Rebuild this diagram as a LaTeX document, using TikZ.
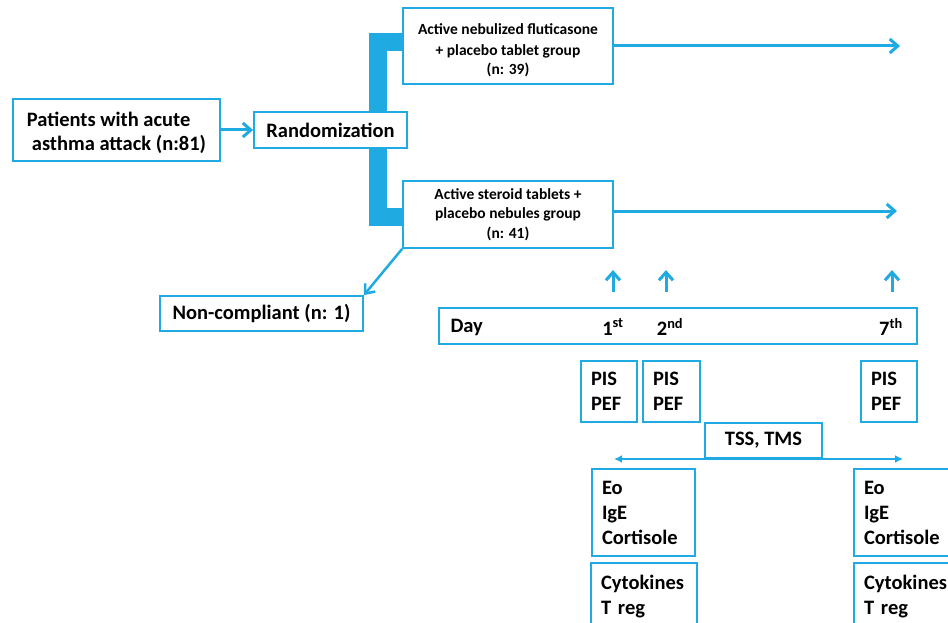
\documentclass[tikz,border=0pt]{standalone}
\usepackage{fontspec}
\setmainfont{Carlito}
\usetikzlibrary{arrows.meta}
\definecolor{cb}{RGB}{32,170,226}
\tikzset{
  box/.style={draw=cb,line width=1.8pt,rectangle,inner sep=0pt,font=\bfseries},
  big/.style={font=\fontsize{20.5}{25}\selectfont\bfseries},
  small/.style={font=\fontsize{15.5}{19.5}\selectfont\bfseries},
  arr/.style={draw=cb,line width=3pt,-{Straight Barb[length=8pt,width=14pt,line width=3pt]}},
  dbl/.style={draw=cb,line width=2.5pt,{Latex[length=8pt,width=8pt]}-{Latex[length=8pt,width=8pt]}},
  lbox/.style={box,big,align=left,inner xsep=10pt},
}
\begin{document}
\begin{tikzpicture}[x=1pt,y=-1pt]
\clip (0,0) rectangle (948,623);
\fill[white] (0,0) rectangle (948,623);
% main flow
\node[box,big,minimum width=207,minimum height=62] (pat) at (116.5,130) {\raisebox{-3.5pt}[\height][\depth]{\begin{tabular}{@{}l@{}}Patients with acute\\[-0.5pt] \hspace*{5pt}asthma attack (n:81)\end{tabular}}};
\node[box,big,minimum width=153,minimum height=36] (rand) at (330.5,130) {Randomization};
\node[box,small,minimum width=210,minimum height=76] (g1) at (508,46) {\raisebox{-5pt}[\height][\depth]{\begin{tabular}{@{}c@{}}Active nebulized fluticasone\\[1pt] + placebo tablet group\\ (n: 39)\end{tabular}}};
\node[box,small,align=center,minimum width=210,minimum height=67] (g2) at (508,214.5) {Active steroid tablets +\\ placebo nebules group\\ (n: 41)};
\node[box,big,minimum width=203,minimum height=35] (nc) at (261.5,313.5) {Non-compliant (n: 1)};
\coordinate (bx) at (378,0);
\coordinate (e1) at (900,46);
\coordinate (e2) at (897,211);
\draw[arr] (pat) -- (rand);
\draw[cb,line width=18pt,line join=miter] (rand.north -| bx) |- ([yshift=4]g1.west);
\draw[cb,line width=18pt,line join=miter] (rand.south -| bx) |- ([yshift=-2.5]g2.west);
\draw[arr] (g1.east) -- (e1);
\draw[arr] (g2.east |- e2) -- (e2);
\draw[cb,line width=2.5pt,-{Straight Barb[length=8pt,width=13pt,line width=2.5pt]}] (g2.south west) -- (nc.north east);
% day bar
\node[box,minimum width=478,minimum height=36] (day) at (678,326) {};
\node[big,anchor=west] (dlab) at (447,327.5) {Day};
\node[big] (d1) at (613,327) {1\textsuperscript{st}};
\node[big] (d2) at (670,327) {2\textsuperscript{nd}};
\node[big] (d7) at (891,327) {7\textsuperscript{th}};
\coordinate (u1) at (613,270);
\coordinate (u2) at (666,270);
\coordinate (u7) at (892,270);
\draw[arr] (u1 |- 0,292) -- (u1);
\draw[arr] (u2 |- 0,292) -- (u2);
\draw[arr] (u7 |- 0,292) -- (u7);
% PIS/PEF
\node[lbox,text width=36,minimum height=61] (p1) at (609,391.5) {PIS\\PEF};
\node[lbox,text width=37,minimum height=61] (p2) at (671.5,391.5) {PIS\\PEF};
\node[lbox,text width=36,minimum height=61] (p7) at (889,391.5) {PIS\\PEF};
% TSS
\node[box,big,minimum width=117,minimum height=35] (tss) at (763.5,440.5) {TSS, TMS};
\coordinate (al) at (614,459);
\coordinate (ar) at (903,459);
\draw[dbl] (al) -- (ar);
% labs
\node[lbox,text width=83,minimum height=87] (eo1) at (643.5,512.5) {Eo\\IgE\\Cortisole};
\node[lbox,text width=86,minimum height=87] (eo7) at (907,512.5) {Eo\\IgE\\Cortisole};
\node[lbox,text width=86,minimum height=67] (cy1) at (644,596.5) {Cytokines\\T reg};
\node[lbox,text width=86,minimum height=67] (cy7) at (907,596.5) {Cytokines\\T reg};
\end{tikzpicture}
\end{document}
